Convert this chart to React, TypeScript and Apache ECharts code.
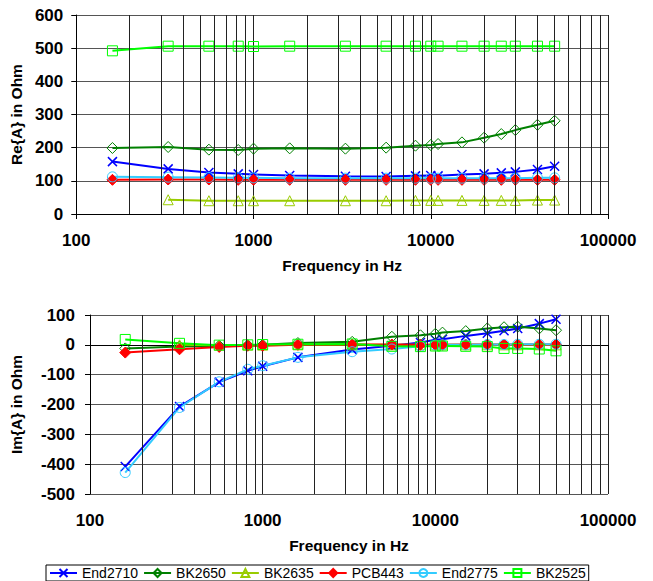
import React, { useEffect, useRef } from "react";
import * as echarts from "echarts";

const freqs = [160, 330, 560, 820, 1000, 1600, 3300, 5600, 8200, 10000, 11000, 15000, 20000, 25000, 30000, 40000, 50000];

const seriesNames = ["End2710", "BK2650", "BK2635", "PCB443", "End2775", "BK2525"];

// Real part (Ohm)
const reEnd2710 = [158, 136, 125, 121, 119, 116, 114, 113, 115, 116, 115, 119, 121, 124, 127, 134, 144];
const reBK2650 = [199, 202, 194, 193, 197, 198, 197, 200, 206, 208, 211, 216, 230, 241, 253, 269, 281];
const reBK2635 = [null, 43, 40, 40, 40, 40, 40, 40, 41, 41, 41, 41, 41, 41, 41, 42, 42];
const rePCB443 = [103, 104, 104, 103, 103, 103, 103, 103, 103, 103, 103, 103, 103, 103, 103, 103, 103];
const reEnd2775 = [112, 111, 110, 109, 109, 108, 108, 108, 108, 108, 108, 108, 108, 108, 108, 109, 109];
const reBK2525 = [492, 506, 506, 506, 505, 506, 506, 506, 506, 506, 506, 506, 506, 506, 506, 506, 506];

// Imaginary part (Ohm)
const imEnd2710 = [-408, -207, -125, -87, -72, -42, -16, -3, 8, 17, 19, 30, 39, 47, 55, 71, 86];
const imBK2650 = [-12, -6, -3, -1, 0, 6, 10, 27, 32, 37, 41, 46, 55, 59, 61, 55, 49];
const imBK2635 = [null, 0, -1, -1, -1, 0, 0, 0, 0, 0, 0, 0, 0, 0, 0, 0, 0];
const imPCB443 = [-26, -15, -7, -3, -3, 0, 1, 1, 0, 0, 0, 1, 1, 1, 1, 1, 1];
const imEnd2775 = [-428, -210, -124, -82, -70, -42, -23, -14, -5, -1, 0, 0, 1, 1, 2, 2, 2];
const imBK2525 = [18, 5, -1, 0, 1, 2, 3, -5, -6, -4, -4, -5, -6, -12, -12, -14, -20];

const minorFreqs = [200, 300, 400, 500, 600, 700, 800, 900, 2000, 3000, 4000, 5000, 6000, 7000, 8000, 9000, 20000, 30000, 40000, 50000, 60000, 70000, 80000, 90000];

const reTicks = [0, 100, 200, 300, 400, 500, 600];
const imTicks = [-500, -400, -300, -200, -100, 0, 100];

const FONT = "'Liberation Sans', Arial, sans-serif";

const styles = [
  { color: "#0000FF", symbol: "path://M0,0L10,10M10,0L0,10", size: 9, fill: "transparent", bw: 1.5 },
  { color: "#008000", symbol: "diamond", size: 11, fill: "transparent", bw: 1 },
  { color: "#99CC00", symbol: "triangle", size: 10, fill: "transparent", bw: 1 },
  { color: "#FF0000", symbol: "diamond", size: 11, fill: "#FF0000", bw: 1 },
  { color: "#33CCFF", symbol: "circle", size: 10, fill: "transparent", bw: 1 },
  { color: "#00FF00", symbol: "rect", size: 10, fill: "transparent", bw: 1 },
];

const reData = [reEnd2710, reBK2650, reBK2635, rePCB443, reEnd2775, reBK2525];
const imData = [imEnd2710, imBK2650, imBK2635, imPCB443, imEnd2775, imBK2525];

function makeSeries(idx: number, values: (number | null)[], name: string, si: number) {
  const s = styles[si];
  return {
    type: "line",
    name,
    xAxisIndex: idx,
    yAxisIndex: idx,
    data: freqs.map((f, i) => [f, values[i]]),
    symbol: s.symbol,
    symbolSize: s.size,
    showAllSymbol: true,
    lineStyle: { color: s.color, width: 2 },
    itemStyle: { color: s.fill, borderColor: s.color, borderWidth: s.bw },
    z: 3,
  };
}

function minorGridSeries(idx: number) {
  return {
    type: "line",
    name: "minor" + idx,
    xAxisIndex: idx,
    yAxisIndex: idx,
    data: [],
    z: 1,
    markLine: {
      silent: true,
      symbol: ["none", "none"],
      label: { show: false },
      lineStyle: { color: "#222", width: 1, type: "solid" },
      data: minorFreqs.map((f) => ({ xAxis: f })),
      animation: false,
    },
  };
}

function xAxis(idx: number) {
  return {
    type: "log",
    logBase: 10,
    gridIndex: idx,
    min: 100,
    max: 100000,
    name: "Frequency in Hz",
    nameLocation: "middle",
    nameGap: 43,
    nameTextStyle: { fontFamily: FONT, fontWeight: "bold", fontSize: 15.5, color: "#000" },
    axisLine: { show: true, lineStyle: { color: "#000", width: 1 } },
    axisTick: { show: true, length: 5, lineStyle: { color: "#000" } },
    axisLabel: {
      fontFamily: FONT,
      fontWeight: "bold",
      fontSize: 17,
      color: "#000",
      margin: 18,
      formatter: (v: number) => String(Math.round(v)),
    },
    splitLine: { show: true, lineStyle: { color: "#222", width: 1 } },
  };
}

function yAxis(idx: number, ticks: number[], name: string, gap: number, margin: number) {
  return {
    type: "value",
    gridIndex: idx,
    min: ticks[0],
    max: ticks[ticks.length - 1],
    interval: ticks[1] - ticks[0],
    name,
    nameLocation: "middle",
    nameRotate: 90,
    nameGap: gap,
    nameTextStyle: { fontFamily: FONT, fontWeight: "bold", fontSize: 15.5, color: "#000" },
    axisLine: { show: true, lineStyle: { color: "#000", width: 1 } },
    axisTick: { show: true, length: 5, lineStyle: { color: "#000" } },
    axisLabel: { fontFamily: FONT, fontWeight: "bold", fontSize: 17, color: "#000", margin },
    splitLine: { show: true, lineStyle: { color: "#555", width: 1 } },
  };
}

export default function App() {
  const ref = useRef<HTMLDivElement>(null);
  useEffect(() => {
    if (!ref.current) return;
    const chart = echarts.init(ref.current, undefined, { renderer: "svg" });
    const series: any[] = [minorGridSeries(0), minorGridSeries(1)];
    seriesNames.forEach((n, i) => series.push(makeSeries(0, reData[i], n, i)));
    seriesNames.forEach((n, i) => series.push(makeSeries(1, imData[i], n, i)));
    chart.setOption({
      animation: false,
      backgroundColor: "#fff",
      textStyle: { fontFamily: FONT },
      grid: [
        { left: 76, top: 15, width: 532, height: 199 },
        { left: 90, top: 315, width: 518, height: 179 },
      ],
      xAxis: [xAxis(0), xAxis(1)],
      yAxis: [yAxis(0, reTicks, "Re{A} in Ohm", 49, 13), yAxis(1, imTicks, "Im{A} in Ohm", 66, 15)],
      legend: {
        data: seriesNames,
        left: 46,
        top: 565,
        orient: "horizontal",
        padding: [1, 3],
        itemGap: 5,
        itemWidth: 27,
        itemHeight: 10,
        borderColor: "#000",
        borderWidth: 1,
        borderRadius: 0,
        textStyle: { fontFamily: FONT, fontSize: 14, lineHeight: 14, color: "#000" },
      },
      series,
    });
    return () => chart.dispose();
  }, []);
  return (
    <div
      ref={ref}
      style={{ position: "absolute", left: 0, top: 0, width: 653, height: 581, background: "#fff" }}
    />
  );
}
